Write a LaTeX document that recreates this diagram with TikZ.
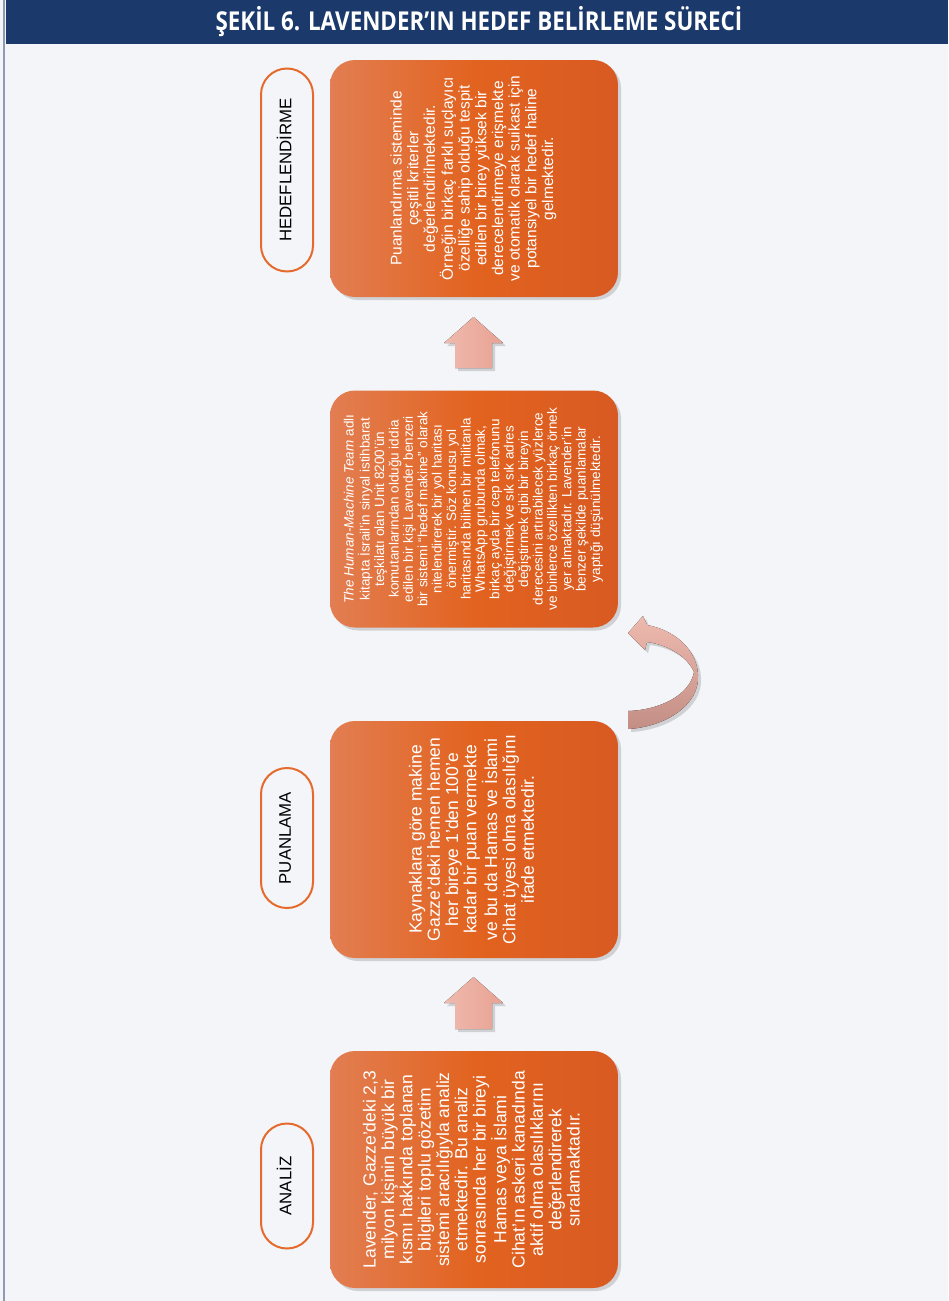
\documentclass[tikz,border=0pt]{standalone}
\usepackage{fontspec}
\usepackage{graphicx}
\setmainfont{Liberation Sans}
\newfontfamily\titlefont[FakeStretch=0.86]{Open Sans}
\usetikzlibrary{shadows}

\definecolor{navy}{HTML}{1B3A6B}
\definecolor{paper}{HTML}{F3F5F9}
\definecolor{frame}{HTML}{8D9CB2}
\definecolor{orangeL}{HTML}{E27E52}
\definecolor{orangeM}{HTML}{E2631F}
\definecolor{orangeR}{HTML}{D85A22}
\definecolor{pillline}{HTML}{E56A2C}
\definecolor{pinkL}{HTML}{EFBAAE}
\definecolor{pinkR}{HTML}{E8A293}
\definecolor{pinkD}{HTML}{C28E85}

% rotated, centred lines of text
\newcommand{\upright}[1]{\rotatebox{90}{\begin{tabular}{@{}c@{}}#1\end{tabular}}}

\begin{document}
\begin{tikzpicture}[x=1pt, y=-1pt,
  stagebox/.style={rectangle, rounded corners=25pt, minimum width=288pt, minimum height=237pt, inner sep=0pt,
    left color=orangeL, right color=orangeR, middle color=orangeM, text=white,
    drop shadow={shadow xshift=3pt, shadow yshift=-3pt, opacity=0.3}},
  stagelabel/.style={rectangle, rounded corners=26pt, minimum width=52pt, inner sep=0pt,
    draw=pillline, line width=2pt, fill=paper, font=\fontsize{16.8}{19}\selectfont},
  blockarrow/.style={left color=pinkL, right color=pinkR,
    drop shadow={shadow xshift=3pt, shadow yshift=-3pt, opacity=0.3}}
]
% page and frame
\fill[paper] (0,0) rectangle (948,1301);
\useasboundingbox (0,0) rectangle (948,1301);
\draw[frame, line width=2pt] (4,0) -- (4,1301);

% header
\fill[navy] (6,0) rectangle (948,44);
\node[font=\titlefont\bfseries\fontsize{26}{30}\selectfont, text=white] (title) at (479,22) {ŞEKİL 6. LAVENDER’IN HEDEF BELİRLEME SÜRECİ};

% stage labels
\node[stagelabel, minimum height=203pt] (labHedef) at (287,170) {\upright{HEDEFLENDİRME}};
\node[stagelabel, minimum height=140pt] (labPuan) at (287,838) {\upright{PUANLAMA}};
\node[stagelabel, minimum height=125pt] (labAnaliz) at (287,1186) {\upright{ANALİZ}};

% stage boxes
\node[stagebox, font=\fontsize{15.5}{16.7}\selectfont] (boxHedef) at (474,178.5) {\upright{Puanlandırma sisteminde\\ çeşitli kriterler\\ değerlendirilmektedir.\\ Örneğin birkaç farklı suçlayıcı\\ özelliğe sahip olduğu tespit\\ edilen bir birey yüksek bir\\ derecelendirmeye erişmekte\\ ve otomatik olarak suikast için\\ potansiyel bir hedef haline\\ gelmektedir.}};
\node[stagebox, font=\fontsize{13.5}{14.4}\selectfont] (boxTeam) at (474,509) {\upright{\textit{The Human-Machine Team} adlı\\ kitapta İsrail’in sinyal istihbarat\\ teşkilatı olan Unit 8200’ün\\ komutanlarından olduğu iddia\\ edilen bir kişi Lavender benzeri\\ bir sistemi “hedef makine” olarak\\ nitelendirerek bir yol haritası\\ önermiştir. Söz konusu yol\\ haritasında bilinen bir militanla\\ WhatsApp grubunda olmak,\\ birkaç ayda bir cep telefonunu\\ değiştirmek ve sık sık adres\\ değiştirmek gibi bir bireyin\\ derecesini artırabilecek yüzlerce\\ ve binlerce özellikten birkaç örnek\\ yer almaktadır. Lavender’in\\ benzer şekilde puanlamalar\\ yaptığı düşünülmektedir.}};
\node[stagebox, font=\fontsize{17.5}{18.3}\selectfont] (boxPuan) at (474,839.5) {\upright{Kaynaklara göre makine\\ Gazze’deki hemen hemen\\ her bireye 1’den 100’e\\ kadar bir puan vermekte\\ ve bu da Hamas ve İslami\\ Cihat üyesi olma olasılığını\\ ifade etmektedir.}};
\node[stagebox, font=\fontsize{17.5}{18.3}\selectfont] (boxAnaliz) at (474,1169.5) {\upright{Lavender, Gazze’deki 2,3\\ milyon kişinin büyük bir\\ kısmı hakkında toplanan\\ bilgileri toplu gözetim\\ sistemi aracılığıyla analiz\\ etmektedir. Bu analiz\\ sonrasında her bir bireyi\\ Hamas veya İslami\\ Cihat’ın askeri kanadında\\ aktif olma olasılıklarını\\ değerlendirerek\\ sıralamaktadır.}};

% arrows between the boxes
\fill[blockarrow] (455,368) -- (455,343) -- (444,343) -- (473.5,317) -- (503,343) -- (492,343) -- (492,368) -- cycle;
\fill[blockarrow] (455,1029) -- (455,1003) -- (444,1003) -- (473.5,977) -- (503,1003) -- (492,1003) -- (492,1029) -- cycle;
\fill[top color=pinkL, bottom color=pinkD, drop shadow={shadow xshift=3pt, shadow yshift=-3pt, opacity=0.3}]
  (628,711) -- (628,729) .. controls (665,727) and (700,705) .. (698,675)
  .. controls (697,650) and (675,630) .. (647,625) -- (643,616) -- (628,633) -- (645,650) -- (647,642)
  .. controls (670,645) and (688,658) .. (694,672) .. controls (690,695) and (660,710) .. (628,711) -- cycle;
\end{tikzpicture}
\end{document}
